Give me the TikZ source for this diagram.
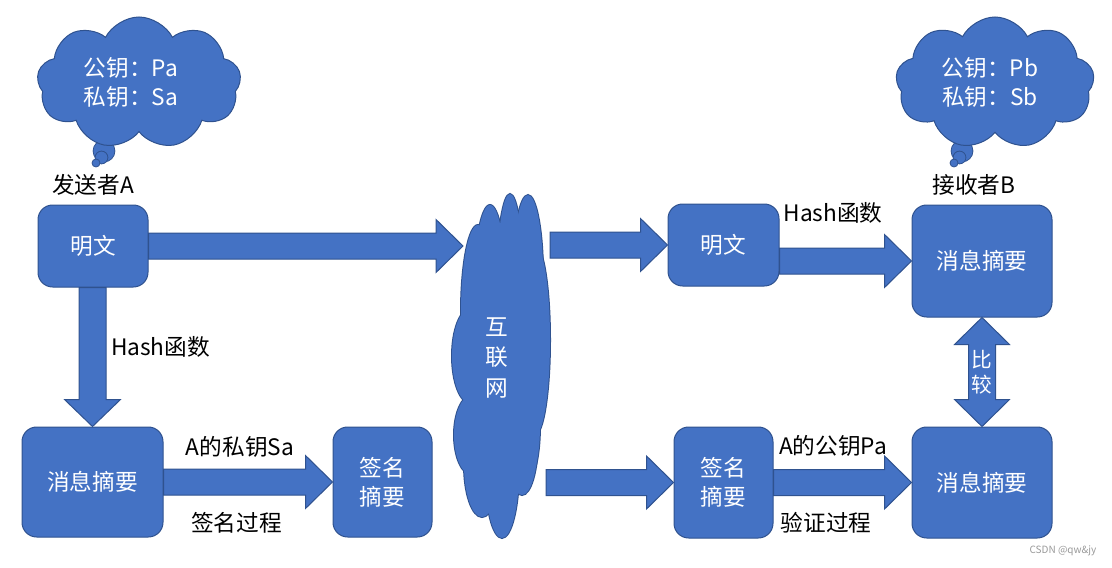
\documentclass[tikz,border=0pt]{standalone}
\usepackage{fontspec}
\setmainfont{Noto Sans CJK SC}
\usetikzlibrary{shapes.symbols,calc}
\definecolor{obl}{HTML}{4472C4}
\definecolor{obd}{HTML}{2F528F}
\newcommand\hblk[2]{\filldraw[barr] ($(#1 |- #2)+(0,-13)$) -- ($(#2)+(-27,-13)$) -- ($(#2)+(-27,-26.5)$) -- (#2) -- ($(#2)+(-27,26.5)$) -- ($(#2)+(-27,13)$) -- ($(#1 |- #2)+(0,13)$) -- cycle;}
\newcommand\vblk[2]{\filldraw[barr] ($(#2 |- #1)+(-13.5,0)$) -- ($(#2)+(-13.5,-27)$) -- ($(#2)+(-28,-27)$) -- (#2) -- ($(#2)+(28,-27)$) -- ($(#2)+(13.5,-27)$) -- ($(#2 |- #1)+(13.5,0)$) -- cycle;}
\newcommand\dblk[2]{\filldraw[barr] (#1) -- ($(#1)+(27.5,27)$) -- ($(#1)+(13.5,27)$) -- ($(#2)+(13.5,-27)$) -- ($(#2)+(27.5,-27)$) -- (#2) -- ($(#2)+(-27.5,-27)$) -- ($(#2)+(-13.5,-27)$) -- ($(#1)+(-13.5,27)$) -- ($(#1)+(-27.5,27)$) -- cycle;}
\begin{document}
\begin{tikzpicture}[x=0.75pt,y=-0.75pt,
  box/.style={draw=obd,fill=obl,line width=0.75pt,rounded corners=11pt,text=white,
    font=\fontsize{17}{21.75}\selectfont,align=center,inner sep=0pt},
  lbl/.style={text=black,font=\fontsize{17}{21.75}\selectfont,inner sep=0pt},
  barr/.style={draw=obd,fill=obl,line width=0.75pt,line join=miter},
  thought/.style={cloud,cloud puffs=9,cloud puff arc=125,aspect=1.55,draw=obd,fill=obl,line width=0.75pt,inner sep=0pt},
  bubble/.style={draw=obd,fill=obl,line width=0.6pt},
  wtxt/.style={text=white,font=\fontsize{17}{21.75}\selectfont,align=center,inner sep=0pt}]
\useasboundingbox (0,0) rectangle (1112,567);

% thought clouds
\filldraw[bubble] (104,151) circle [radius=8.2pt];
\filldraw[bubble] (101.5,157.5) circle [radius=4.8pt];
\filldraw[bubble] (96,163) circle [radius=3pt];
\node[thought,minimum width=153pt,minimum height=99pt] (c1) at (139,83) {};
\node[wtxt] (c1t) at (131,82.5) {公钥：Pa\\私钥：Sa};

\filldraw[bubble] (962,151) circle [radius=8.2pt];
\filldraw[bubble] (959.5,157.5) circle [radius=4.8pt];
\filldraw[bubble] (954,163) circle [radius=3pt];
\node[thought,minimum width=149pt,minimum height=99pt] (c2) at (995,83) {};
\node[wtxt] (c2t) at (990,82.5) {公钥：Pb\\私钥：Sb};

\node[lbl] (sa) at (93,185) {发送者A};
\node[lbl] (rb) at (974,185) {接收者B};

% internet cloud
\foreach \cx/\cy/\rx/\ry in {490/290/16/85,478/312/17/87,510/280/13/86,528/275/15/80,535/340/15/95,
  470/356/18/47,472/435/18/40,482/465/18/52,502/470/17/68,522/440/16/55,530/425/10/50,500/365/38/125}{
  \pgfmathsetmacro\rxp{\rx*0.75}\pgfmathsetmacro\ryp{\ry*0.75}
  \filldraw[draw=obd,fill=obl,line width=1.5pt] (\cx,\cy) ellipse [x radius=\rxp pt,y radius=\ryp pt];}
\foreach \cx/\cy/\rx/\ry in {490/290/16/85,478/312/17/87,510/280/13/86,528/275/15/80,535/340/15/95,
  470/356/18/47,472/435/18/40,482/465/18/52,502/470/17/68,522/440/16/55,530/425/10/50,500/365/38/125}{
  \pgfmathsetmacro\rxp{\rx*0.75}\pgfmathsetmacro\ryp{\ry*0.75}
  \fill[obl] (\cx,\cy) ellipse [x radius=\rxp pt,y radius=\ryp pt];}
\node[wtxt,font=\fontsize{17}{23}\selectfont] (net) at (497,358) {互\\联\\网};
\coordinate (n1) at (463,246);
\coordinate (n2) at (550,246);
\coordinate (n3) at (546,483);

% boxes
\node[box,minimum width=82.5pt,minimum height=61.5pt] (m1) at (93,246) {明文};
\node[box,minimum width=105.75pt,minimum height=82.5pt] (d1) at (92.5,482) {消息摘要};
\node[box,minimum width=74.25pt,minimum height=82.5pt] (s1) at (382.5,482) {签名\\摘要};
\node[box,minimum width=83.25pt,minimum height=61.5pt] (m2) at (723.5,245) {明文};
\node[box,minimum width=105pt,minimum height=84pt] (d2) at (982,261) {消息摘要};
\node[box,minimum width=74.25pt,minimum height=83.25pt] (s2) at (723.5,482.5) {签名\\摘要};
\node[box,minimum width=105pt,minimum height=83.25pt] (d3) at (982,482.5) {消息摘要};

% block arrows
\hblk{m1.east}{n1}
\vblk{m1.south}{d1.north}
\hblk{d1.east}{s1.west}
\hblk{n2}{m2.west}
\hblk{m2.east}{d2.west}
\hblk{n3}{s2.west}
\hblk{s2.east}{d3.west}
\dblk{d2.south}{d3.north}
\node[wtxt,font=\fontsize{15.5}{19}\selectfont] (cmp) at (982,372) {比\\较};

% labels
\node[lbl] (h1) at (160.5,347) {Hash函数};
\node[lbl] (k1) at (240,447) {A的私钥Sa};
\node[lbl] (p1) at (236.5,523) {签名过程};
\node[lbl] (h2) at (833,213) {Hash函数};
\node[lbl] (k2) at (833,446) {A的公钥Pa};
\node[lbl] (p2) at (826,523) {验证过程};

\node[text=black!40,font=\fontsize{7.5}{9}\selectfont,inner sep=0pt] (wm) at (1063,551) {CSDN @qw\&jy};
\end{tikzpicture}
\end{document}
